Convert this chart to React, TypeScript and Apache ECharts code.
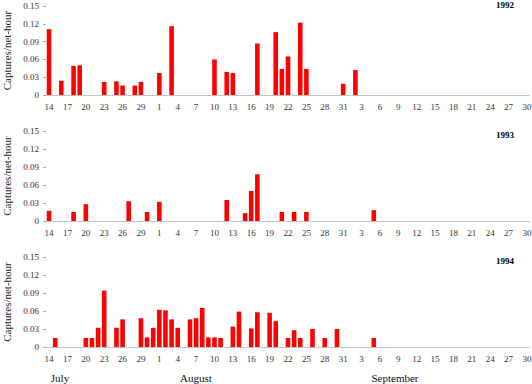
import React, { useEffect, useRef } from "react";
import * as echarts from "echarts";

// Categories: every day from 14 July to 30 September
const monthRanges: [string, number, number][] = [
  ["Jul", 14, 31],
  ["Aug", 1, 31],
  ["Sep", 1, 30],
];
const categories: string[] = [];
monthRanges.forEach(([m, a, b]) => {
  for (let d = a; d <= b; d++) categories.push(m + " " + d);
});

const yTicks = [0, 0.03, 0.06, 0.09, 0.12, 0.15];
const monthLabels = ["July", "August", "September"];
const years = ["1992", "1993", "1994"];

const dates1992 = ["Jul 14", "Jul 16", "Jul 18", "Jul 19", "Jul 23", "Jul 25", "Jul 26", "Jul 28", "Jul 29", "Aug 1", "Aug 3", "Aug 10", "Aug 12", "Aug 13", "Aug 17", "Aug 20", "Aug 21", "Aug 22", "Aug 24", "Aug 25", "Aug 31", "Sep 2"];
const values1992 = [0.111, 0.024, 0.049, 0.05, 0.022, 0.023, 0.016, 0.016, 0.022, 0.037, 0.116, 0.06, 0.039, 0.037, 0.087, 0.106, 0.044, 0.065, 0.122, 0.044, 0.019, 0.042];

const dates1993 = ["Jul 14", "Jul 18", "Jul 20", "Jul 27", "Jul 30", "Aug 1", "Aug 12", "Aug 15", "Aug 16", "Aug 17", "Aug 21", "Aug 23", "Aug 25", "Sep 5"];
const values1993 = [0.017, 0.015, 0.028, 0.033, 0.015, 0.032, 0.035, 0.013, 0.05, 0.078, 0.015, 0.015, 0.015, 0.018];

const dates1994 = ["Jul 15", "Jul 20", "Jul 21", "Jul 22", "Jul 23", "Jul 25", "Jul 26", "Jul 29", "Jul 30", "Jul 31", "Aug 1", "Aug 2", "Aug 3", "Aug 4", "Aug 6", "Aug 7", "Aug 8", "Aug 9", "Aug 10", "Aug 11", "Aug 13", "Aug 14", "Aug 16", "Aug 17", "Aug 19", "Aug 20", "Aug 22", "Aug 23", "Aug 24", "Aug 26", "Aug 28", "Aug 30", "Sep 5"];
const values1994 = [0.015, 0.015, 0.015, 0.032, 0.094, 0.032, 0.046, 0.048, 0.016, 0.032, 0.062, 0.061, 0.046, 0.032, 0.046, 0.048, 0.065, 0.016, 0.016, 0.015, 0.034, 0.059, 0.031, 0.058, 0.057, 0.043, 0.015, 0.028, 0.015, 0.03, 0.015, 0.03, 0.015];

const yearData: [string[], number[]][] = [
  [dates1992, values1992],
  [dates1993, values1993],
  [dates1994, values1994],
];

const FONT = '"Liberation Serif", "Times New Roman", serif';

export default function App() {
  const ref = useRef<HTMLDivElement>(null);
  useEffect(() => {
    document.body.style.margin = "0";
    if (!ref.current) return;
    const chart = echarts.init(ref.current, undefined, { renderer: "svg" });
    const tops = [6, 131, 257];
    const heights = [89, 90, 90];
    const grids = tops.map((t, i) => ({
      left: 46,
      width: 484,
      top: t,
      height: heights[i],
      containLabel: false,
      outerBoundsMode: "none",
    }));
    const xAxes = tops.map((_, i) => ({
      type: "category",
      gridIndex: i,
      data: categories,
      boundaryGap: true,
      axisLine: { show: true, lineStyle: { color: "#b8b8b8", type: "dotted", width: 1 } },
      axisTick: { show: false },
      axisLabel: {
        interval: 2,
        margin: 7,
        fontSize: 9,
        fontFamily: FONT,
        color: "#333",
        formatter: (v: string) => v.split(" ")[1],
      },
      splitLine: { show: false },
    }));
    const yAxes = tops.map((_, i) => ({
      type: "value",
      gridIndex: i,
      min: yTicks[0],
      max: yTicks[yTicks.length - 1],
      interval: yTicks[1] - yTicks[0],
      name: "Captures/net-hour",
      nameLocation: "middle",
      nameGap: 34,
      nameTextStyle: { fontSize: 11, fontFamily: FONT, color: "#222" },
      axisLine: { show: false },
      axisTick: { show: true, length: 3, lineStyle: { color: "#aaa" } },
      axisLabel: { fontSize: 9, margin: 7, fontFamily: FONT, color: "#333" },
      splitLine: { show: false },
    }));
    const series = yearData.map(([dates, vals], i) => ({
      type: "bar",
      xAxisIndex: i,
      yAxisIndex: i,
      barWidth: 4.6,
      itemStyle: { color: "#ff0000" },
      data: dates.map((d, k) => [categories.indexOf(d), vals[k]]),
    }));
    const yearY = [5, 135, 261];
    const graphic: any[] = years.map((y, i) => ({
      type: "text",
      x: 514,
      y: yearY[i],
      style: {
        text: y,
        fontSize: 9,
        fontWeight: "bold",
        fontFamily: FONT,
        fill: "#000",
        textAlign: "right",
        textVerticalAlign: "middle",
      },
    }));
    const monthX = [60, 196, 395];
    monthLabels.forEach((m, i) => {
      graphic.push({
        type: "text",
        x: monthX[i],
        y: 378,
        style: {
          text: m,
          fontSize: 11,
          fontFamily: FONT,
          fill: "#111",
          textAlign: "center",
          textVerticalAlign: "middle",
        },
      });
    });
    chart.setOption({
      animation: false,
      textStyle: { fontFamily: FONT },
      grid: grids,
      xAxis: xAxes,
      yAxis: yAxes,
      series,
      graphic,
    } as any);
    return () => chart.dispose();
  }, []);
  return <div ref={ref} style={{ width: 532, height: 384, position: "absolute", left: 0, top: 0 }} />;
}
